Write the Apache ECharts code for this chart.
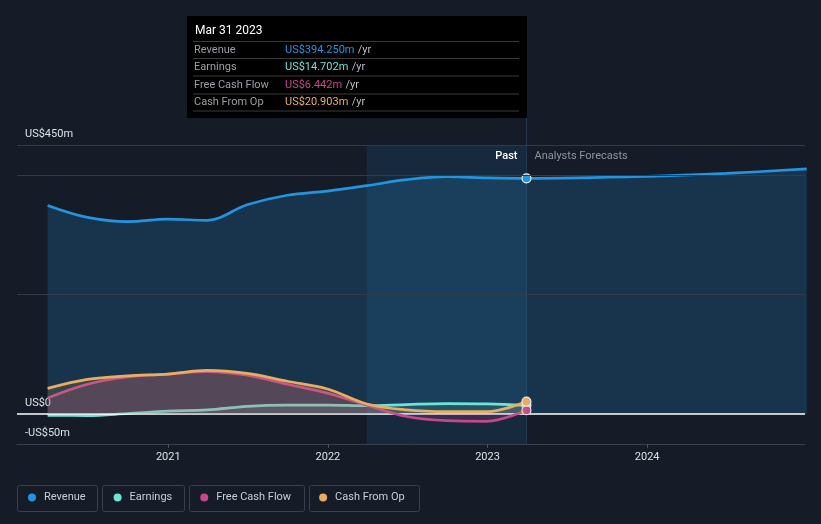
<!DOCTYPE html>
<html>
<head>
<meta charset="utf-8">
<script src="https://cdn.jsdelivr.net/npm/echarts@6/dist/echarts.min.js"></script>
<style>
html,body{margin:0;padding:0;background:#161c27;}
#c{width:821px;height:524px;}
</style>
</head>
<body>
<div id="c"></div>
<script>
// ---- data ----
const pastDates = ['2020-03-31','2020-06-30','2020-09-30','2020-12-31','2021-03-31','2021-06-30','2021-09-30','2021-12-31','2022-03-31','2022-06-30','2022-09-30','2022-12-31','2023-03-31'];
const revenuePast = [349, 329, 322, 326, 324, 350, 366, 373, 382, 392, 397, 395, 394.25];
const forecastDates = ['2023-12-31','2024-06-30','2024-12-31'];
const revenueForecast = [397.5, 402.5, 410];
const earnings = [-2, -2.5, 1, 5, 7, 13, 15, 15, 14, 16, 17.5, 17, 14.702];
const freeCashFlow = [27, 50, 62, 67, 71, 65, 50, 35, 15, -4, -11, -12, 6.442];
const cashFromOp = [43, 58, 64, 67, 73, 68, 55, 42, 17, 7, 4, 4, 20.903];
const seriesNames = ['Revenue','Earnings','Free Cash Flow','Cash From Op'];
const yearTicks = ['2021-01-01','2022-01-01','2023-01-01','2024-01-01'];
const yLabelValues = [450, 0, -50];
const yLabelTexts = ['US$450m','US$0','-US$50m'];
const gridLineValues = [200, 400, 450];
const bandStart = '2022-03-31';
const tooltipTitle = 'Mar 31 2023';
const axisMin = '2020-01-21';
const axisMax = '2024-12-27';

const colors = ['#2394df', '#6ce5d4', '#c4488a', '#e9ae5d'];

function ts(s){ return new Date(s + 'T00:00:00Z').getTime(); }
function pairs(ds, vs){ return ds.map((d,i)=>[ts(d), vs[i]]); }
function withEndMarker(arr, idx, color){
  return arr.map((p,i)=> i===idx ? {value:p, symbol:'circle', symbolSize:9,
     itemStyle:{color:color, borderColor:'#e8eef5', borderWidth:1.2}} : p);
}

const revAll = pairs(pastDates.concat(forecastDates), revenuePast.concat(revenueForecast));
const lastIdx = pastDates.length - 1;
const lastTs = ts(pastDates[lastIdx]);

const chart = echarts.init(document.getElementById('c'), null, {renderer:'canvas'});

function lineSeries(name, data, color, z, areaOpacity){
  return {
    name: name, type:'line', data: data, smooth: 0.35, z: z,
    symbol:'none', showSymbol:true,
    lineStyle:{color:color, width:2.7},
    itemStyle:{color:color},
    areaStyle:{color:color, opacity:areaOpacity},
    emphasis:{disabled:true}
  };
}

const option = {
  backgroundColor:'#161c27',
  animation:false,
  textStyle:{fontFamily:'Roboto'},
  grid:{left:17, right:16, top:145, bottom:80, containLabel:false},
  xAxis:{
    type:'value', min: ts(axisMin), max: ts(axisMax),
    axisLine:{show:true, onZero:false, lineStyle:{color:'#3a404b', width:1}},
    axisTick:{show:true, customValues: yearTicks.map(ts), length:4, lineStyle:{color:'#4a505b'}},
    axisLabel:{customValues: yearTicks.map(ts), color:'#dde1e6', fontSize:11, margin:8,
      formatter: v => String(new Date(v).getUTCFullYear())},
    splitLine:{show:false}
  },
  yAxis:{
    type:'value', min:-50, max:450, interval:50,
    axisLine:{show:false}, axisTick:{show:false}, splitLine:{show:false},
    axisLabel:{inside:true, margin:8, color:'#dde1e6', fontSize:11, verticalAlign:'bottom',
      padding:[0,0,5,0],
      formatter: v => { const i = yLabelValues.indexOf(v); return i>=0 ? yLabelTexts[i] : ''; }}
  },
  legend:{
    data: seriesNames, left:23, top:487, itemWidth:8, itemHeight:8, itemGap:28, icon:'circle',
    textStyle:{color:'#c9ced6', fontSize:11, padding:[0,0,0,3]},
    selectedMode:false
  },
  series:[
    {
      name:'band', type:'line', data: revAll, z:1, symbol:'none',
      lineStyle:{width:0, opacity:0}, silent:true,
      markArea:{silent:true, itemStyle:{color:'rgba(35,130,200,0.14)'},
        data:[[{xAxis: ts(bandStart)},{xAxis: lastTs}]]},
      markLine:{silent:true, symbol:['none','none'], label:{show:false},
        data: gridLineValues.map(v=>({yAxis:v, lineStyle:{color:'#353b46', width:1, type:'solid'}}))
          .concat([{yAxis:0, lineStyle:{color:'#ffffff', width:1.5, type:'solid'}}])}
    },
    lineSeries(seriesNames[0], withEndMarker(revAll, lastIdx, colors[0]), colors[0], 3, 0.2),
    lineSeries(seriesNames[1], withEndMarker(pairs(pastDates, earnings), lastIdx, colors[1]), colors[1], 4, 0.12),
    lineSeries(seriesNames[2], withEndMarker(pairs(pastDates, freeCashFlow), lastIdx, colors[2]), colors[2], 5, 0.2),
    lineSeries(seriesNames[3], withEndMarker(pairs(pastDates, cashFromOp), lastIdx, colors[3]), colors[3], 6, 0.15)
  ]
};
chart.setOption(option);

// ---- overlay: tooltip box, past/forecast labels, legend boxes ----
const topLeft = chart.convertToPixel({gridIndex:0}, [lastTs, 450]);
const bottom = chart.convertToPixel({gridIndex:0}, [lastTs, -50]);
const lx = Math.round(topLeft[0]) + 0.5;
const lastValues = [revenuePast[lastIdx], earnings[lastIdx], freeCashFlow[lastIdx], cashFromOp[lastIdx]];
function fmt(v){ const s = v.toFixed(3); return 'US$' + s + 'm'; }

const tipX = 187, tipY = 16, tipW = lx - tipX + 0.5, tipH = 102;
const g = [];
g.push({type:'line', silent:true, z:2, shape:{x1:lx, y1:tipY+tipH, x2:lx, y2:bottom[1]},
  style:{stroke:'#23384d', lineWidth:1}});
g.push({type:'rect', silent:true, z:60, shape:{x:tipX, y:tipY, width:tipW, height:tipH}, style:{fill:'#000000'}});
g.push({type:'text', silent:true, z:61, x:tipX+8, y:tipY+15, style:{text:tooltipTitle, fill:'#ffffff', font:'12px Roboto', verticalAlign:'middle'}});
const rowY = [tipY+25.5, tipY+42.5, tipY+60, tipY+78, tipY+95];
rowY.forEach(y => g.push({type:'line', silent:true, z:61, shape:{x1:tipX+6, y1:y, x2:tipX+tipW-8, y2:y}, style:{stroke:'#3a3a3a', lineWidth:1}}));
seriesNames.forEach((n,i)=>{
  const cy = (rowY[i] + rowY[i+1]) / 2;
  g.push({type:'text', silent:true, z:61, x:tipX+7, y:cy, style:{text:n, fill:'#9a9ea4', font:'11px Roboto', verticalAlign:'middle'}});
  g.push({type:'text', silent:true, z:61, x:tipX+98, y:cy, style:{
    text:'{v|' + fmt(lastValues[i]) + '} {u|/yr}', verticalAlign:'middle',
    rich:{v:{fill:colors[i], font:'11px Roboto'}, u:{fill:'#b8bcc2', font:'11px Roboto'}}}});
});
g.push({type:'text', silent:true, z:40, x:lx-9, y:topLeft[1]+11.5, style:{text:'Past', fill:'#ffffff', font:'500 11px Roboto', align:'right', verticalAlign:'middle'}});
g.push({type:'text', silent:true, z:40, x:lx+8, y:topLeft[1]+11.5, style:{text:'Analysts Forecasts', fill:'#8f959d', font:'11px Roboto', align:'left', verticalAlign:'middle'}});
const boxes = [[17,80],[102,82],[189,115],[309,110]];
boxes.forEach(b => g.push({type:'rect', silent:true, z:10, shape:{x:b[0]+0.5, y:485.5, width:b[1], height:26, r:2}, style:{fill:'none', stroke:'#3a404b', lineWidth:1}}));
chart.setOption({graphic: g});
</script>
</body>
</html>
